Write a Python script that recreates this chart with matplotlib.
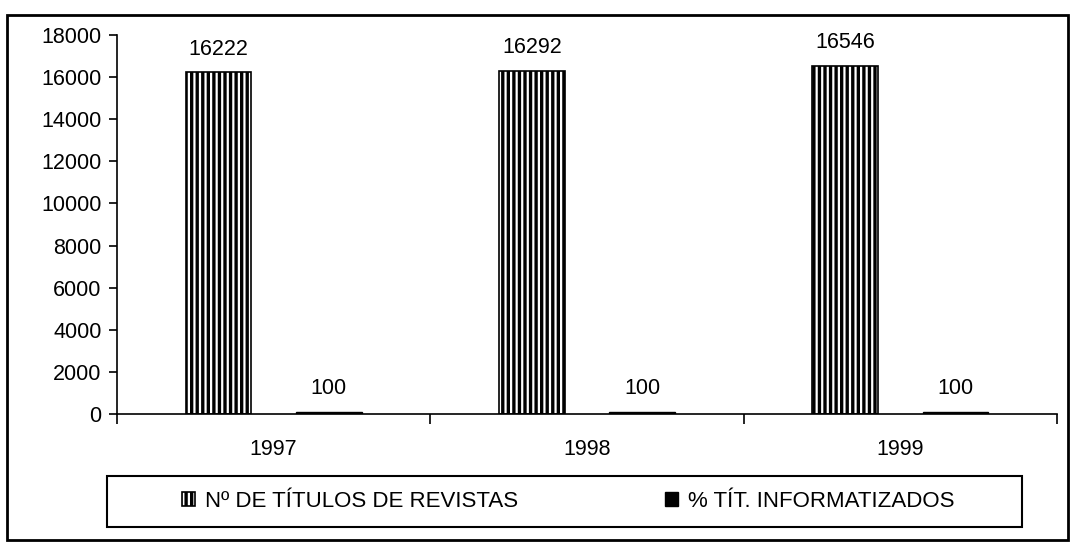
import numpy as np
import matplotlib
matplotlib.use("Agg")
import matplotlib.pyplot as plt
from matplotlib.patches import Rectangle

years = ["1997", "1998", "1999"]
titulos = [16222, 16292, 16546]
informatizados = [100, 100, 100]
serie_names = ["Nº DE TÍTULOS DE REVISTAS", "% TÍT. INFORMATIZADOS"]
y_ticks = list(range(0, 18001, 2000))

plt.rcParams["font.family"] = ["Liberation Sans", "DejaVu Sans"]
plt.rcParams["hatch.linewidth"] = 2.4

fig = plt.figure(figsize=(10.76, 5.45), dpi=100)
ax = fig.add_axes([117 / 1076, 1 - 414 / 545, 940 / 1076, 379 / 545])

x = np.arange(len(years))
width = 0.21
offset = 0.176

b1 = ax.bar(x - offset, titulos, width, color="white", edgecolor="black",
            hatch="|||", linewidth=1.2, label=serie_names[0])
b2 = ax.bar(x + offset, informatizados, width, color="black",
            edgecolor="black", label=serie_names[1])
ax.bar_label(b1, padding=9, fontsize=15.5)
ax.bar_label(b2, padding=9, fontsize=15.5)

ax.set_xlim(-0.5, len(years) - 0.5)
ax.set_ylim(0, 18000)
ax.set_yticks(y_ticks)
ax.tick_params(axis="y", labelsize=15.5, length=6, width=1.2, pad=5)
ax.set_xticks(x)
ax.set_xticklabels(years)
ax.set_xticks(np.arange(len(years) + 1) - 0.5, minor=True)
ax.tick_params(axis="x", which="major", length=0, labelsize=15.5, pad=18)
ax.tick_params(axis="x", which="minor", length=7, width=1.2)

for s in ["top", "right"]:
    ax.spines[s].set_visible(False)
for s in ["left", "bottom"]:
    ax.spines[s].set_linewidth(1.2)

# outer frame of the chart
fig.patches.append(Rectangle((7 / 1076, 1 - 540 / 545), 1061 / 1076, 525 / 545,
                             transform=fig.transFigure, fill=False,
                             edgecolor="black", linewidth=2))
# legend box
fig.patches.append(Rectangle((107 / 1076, 1 - 527 / 545), 915 / 1076, 51 / 545,
                             transform=fig.transFigure, fill=False,
                             edgecolor="black", linewidth=1.5))
fig.legend(handles=[b1, b2], loc="center", ncol=2, frameon=False,
           bbox_to_anchor=(568 / 1076, 1 - 501.5 / 545), fontsize=16,
           handlelength=0.6, handleheight=0.6, handletextpad=0.45,
           columnspacing=6.6)

fig.savefig("out.png", dpi=100)
